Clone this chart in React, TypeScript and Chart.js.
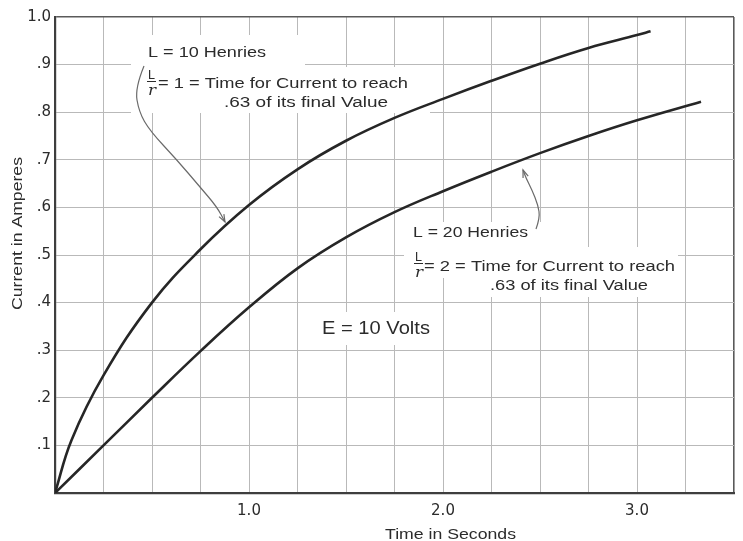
import React, { useEffect, useRef } from "react";
import { Chart, registerables } from "chart.js";

Chart.register(...registerables);

// ---- data ----
const T_UPPER = [0, 0.085, 0.25, 0.5, 0.75, 1.0, 1.25, 1.5, 1.75, 2.0, 2.25, 2.5, 2.75, 3.0, 3.07];
const I_UPPER = [0, 0.111, 0.247, 0.4, 0.512, 0.605, 0.68, 0.74, 0.788, 0.828, 0.866, 0.902, 0.935, 0.962, 0.97];
const T_LOWER = [0, 0.25, 0.5, 0.75, 1.0, 1.25, 1.5, 1.75, 2.0, 2.25, 2.5, 2.75, 3.0, 3.33];
const I_LOWER = [0, 0.1, 0.2, 0.298, 0.39, 0.472, 0.537, 0.59, 0.634, 0.675, 0.714, 0.75, 0.783, 0.822];

const X_LABELED = [1, 2, 3];
const X_TITLE = "Time in Seconds";
const Y_TITLE = "Current in Amperes";

const UPPER_L = "L = 10 Henries";
const UPPER_EQ = "= 1 = Time for Current to reach";
const UPPER_L2 = ".63 of its final Value";
const LOWER_L = "L = 20 Henries";
const LOWER_EQ = "= 2 = Time for Current to reach";
const LOWER_L2 = ".63 of its final Value";
const VOLTS = "E = 10 Volts";

const FAMILY = '"Liberation Sans Narrow", "Liberation Sans", sans-serif';
const INK = "#2b2b2b";

function fitText(ctx: CanvasRenderingContext2D, text: string, x: number, y: number, w: number, size: number, family = FAMILY, style = "") {
  ctx.font = `${style} ${size}px ${family}`;
  const m = ctx.measureText(text).width;
  ctx.save();
  ctx.translate(x, y);
  ctx.scale(w / m, 1);
  ctx.textAlign = "left";
  ctx.textBaseline = "alphabetic";
  ctx.fillText(text, 0, 0);
  ctx.restore();
}

function smooth(ctx: CanvasRenderingContext2D, pts: number[][]) {
  ctx.beginPath();
  ctx.moveTo(pts[0][0], pts[0][1]);
  for (let i = 1; i < pts.length - 1; i++) {
    const mx = (pts[i][0] + pts[i + 1][0]) / 2;
    const my = (pts[i][1] + pts[i + 1][1]) / 2;
    ctx.quadraticCurveTo(pts[i][0], pts[i][1], mx, my);
  }
  const l = pts[pts.length - 1];
  ctx.lineTo(l[0], l[1]);
  ctx.stroke();
}

function head(ctx: CanvasRenderingContext2D, from: number[], to: number[]) {
  const a = Math.atan2(to[1] - from[1], to[0] - from[0]);
  const len = 8;
  ctx.beginPath();
  ctx.moveTo(to[0] - len * Math.cos(a - 0.35), to[1] - len * Math.sin(a - 0.35));
  ctx.lineTo(to[0], to[1]);
  ctx.lineTo(to[0] - len * Math.cos(a + 0.35), to[1] - len * Math.sin(a + 0.35));
  ctx.stroke();
}

const decor = {
  id: "decor",
  beforeDatasetsDraw(chart: any) {
    const ctx = chart.ctx;
    ctx.save();
    ctx.fillStyle = "#ffffff";
    ctx.fillRect(131, 35, 174, 78);
    ctx.fillRect(305, 67, 125, 46);
    ctx.fillRect(408, 222, 134, 25);
    ctx.fillRect(404, 247, 274, 31);
    ctx.fillRect(462, 277, 205, 20);
    ctx.fillRect(316, 312, 124, 33);
    ctx.restore();
  },
  afterDatasetsDraw(chart: any) {
    const ctx = chart.ctx;
    ctx.save();
    ctx.fillStyle = INK;
    // upper annotation
    fitText(ctx, UPPER_L, 148, 57, 118, 14);
    fitText(ctx, "L", 148, 79, 7, 12);
    fitText(ctx, "r", 148, 95, 8, 15, '"DejaVu Serif", serif', "italic");
    fitText(ctx, UPPER_EQ, 158, 88, 250, 14);
    fitText(ctx, UPPER_L2, 224, 107, 164, 14);
    // lower annotation
    fitText(ctx, LOWER_L, 413, 237, 115, 14);
    fitText(ctx, "L", 415, 261, 7, 12);
    fitText(ctx, "r", 415, 277, 8, 15, '"DejaVu Serif", serif', "italic");
    fitText(ctx, LOWER_EQ, 424, 271, 251, 14);
    fitText(ctx, LOWER_L2, 490, 290, 158, 14);
    // volts
    fitText(ctx, VOLTS, 322, 334, 108, 18);
    // fraction bars
    ctx.strokeStyle = INK;
    ctx.lineWidth = 1.2;
    ctx.beginPath();
    ctx.moveTo(147, 81.5); ctx.lineTo(156, 81.5);
    ctx.moveTo(414, 263.5); ctx.lineTo(423, 263.5);
    ctx.stroke();
    // arrows
    ctx.strokeStyle = "#6a6a6a";
    ctx.lineWidth = 1.2;
    const up = [[144, 66], [135, 88], [139, 112], [150, 131], [177, 160], [200, 187], [217, 207], [225, 222]];
    smooth(ctx, up);
    head(ctx, up[up.length - 2], up[up.length - 1]);
    const lo = [[536, 229], [540, 218], [538, 205], [532, 190], [526, 178], [523, 170]];
    smooth(ctx, lo);
    head(ctx, lo[lo.length - 2], lo[lo.length - 1]);
    // axis titles
    fitText(ctx, X_TITLE, 385, 539, 131, 14);
    ctx.save();
    ctx.translate(22, 310);
    ctx.rotate(-Math.PI / 2);
    fitText(ctx, Y_TITLE, 0, 0, 153, 14);
    ctx.restore();
    ctx.restore();
  },
};

export default function App() {
  const ref = useRef<HTMLCanvasElement | null>(null);
  useEffect(() => {
    document.body.style.margin = "0";
    const chart = new Chart(ref.current as HTMLCanvasElement, {
      type: "line",
      data: {
        datasets: [
          {
            label: "L = 10 Henries",
            data: T_UPPER.map((t, i) => ({ x: t, y: I_UPPER[i] })),
            borderColor: "#262626",
            borderWidth: 2.6,
            pointRadius: 0,
            tension: 0.4,
            fill: false,
          },
          {
            label: "L = 20 Henries",
            data: T_LOWER.map((t, i) => ({ x: t, y: I_LOWER[i] })),
            borderColor: "#262626",
            borderWidth: 2.6,
            pointRadius: 0,
            tension: 0.4,
            fill: false,
          },
        ],
      },
      options: {
        animation: false,
        responsive: true,
        maintainAspectRatio: false,
        devicePixelRatio: 1,
        layout: { padding: { top: 17, right: 3, left: 0, bottom: 0 } },
        plugins: { legend: { display: false }, tooltip: { enabled: false } },
        scales: {
          x: {
            type: "linear",
            min: 0,
            max: 3.5,
            afterFit: (s: any) => { s.height = 48; },
            ticks: {
              stepSize: 0.25,
              autoSkip: false,
              maxRotation: 0,
              padding: 9,
              color: INK,
              font: { family: '"DejaVu Sans", sans-serif', size: 15 },
              callback: (v: any) => {
                const n = Number(v);
                return X_LABELED.some((k) => Math.abs(k - n) < 1e-6) ? n.toFixed(1) : "";
              },
            },
            grid: {
              drawTicks: false,
              color: (c: any) => (Math.abs(c.tick.value - 3.5) < 1e-6 ? "#5a5a5a" : "#b9b9b9"),
              lineWidth: (c: any) => (Math.abs(c.tick.value - 3.5) < 1e-6 ? 1.6 : 1),
            },
            border: { display: true, color: "#3e3e3e", width: 2.2 },
          },
          y: {
            type: "linear",
            min: 0,
            max: 1,
            afterFit: (s: any) => { s.width = 55; },
            ticks: {
              stepSize: 0.1,
              autoSkip: false,
              padding: 4,
              color: INK,
              font: { family: '"DejaVu Sans", sans-serif', size: 15 },
              callback: (v: any) => {
                const n = Math.round(Number(v) * 10);
                if (n === 0) return "";
                if (n === 10) return "1.0";
                return "." + n;
              },
            },
            grid: {
              drawTicks: false,
              color: (c: any) => (Math.abs(c.tick.value - 1) < 1e-6 ? "#5a5a5a" : "#b9b9b9"),
              lineWidth: (c: any) => (Math.abs(c.tick.value - 1) < 1e-6 ? 1.6 : 1),
            },
            border: { display: true, color: "#3e3e3e", width: 2.2 },
          },
        },
      },
      plugins: [decor],
    } as any);
    return () => chart.destroy();
  }, []);
  return (
    <div style={{ position: "fixed", left: 0, top: 0, width: 743, height: 541, background: "#fff" }}>
      <canvas ref={ref} />
    </div>
  );
}
